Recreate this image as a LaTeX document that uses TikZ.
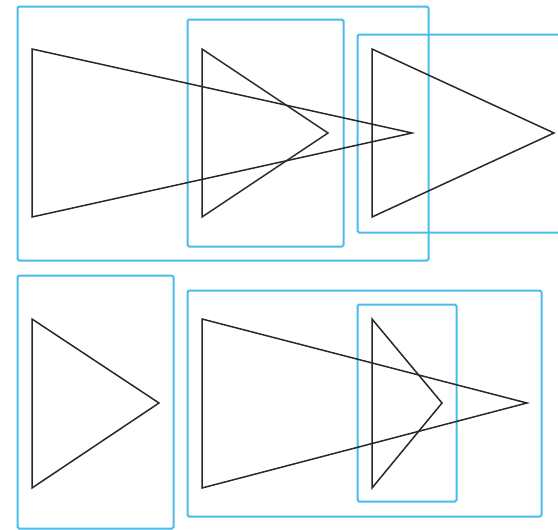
\documentclass[tikz,border=0pt]{standalone}
\definecolor{boxblue}{RGB}{72,186,236}
\definecolor{triblack}{RGB}{40,40,40}
\tikzset{
  bluebox/.style={draw=boxblue, line width=2pt, rounded corners=1.5pt},
  tri/.style={draw=triblack, line width=1.5pt, line join=miter}
}
\begin{document}
\begin{tikzpicture}[x=1pt,y=-1pt]
\useasboundingbox (0,0) rectangle (558,530);
% top row
\draw[bluebox] (17.5,6.5) rectangle (428.5,260.5);
\draw[bluebox] (187.5,19.5) rectangle (343.5,246.5);
\draw[bluebox] (357.5,34.5) rectangle (562,232.5);
\draw[tri] (32,49) -- (32,217) -- (412,133) -- cycle;
\draw[tri] (202,49) -- (202,217) -- (328,133) -- cycle;
\draw[tri] (372,49) -- (372,217) -- (554,133) -- cycle;
% bottom row
\draw[bluebox] (17.5,275.5) rectangle (173.5,528.5);
\draw[bluebox] (187.5,290.5) rectangle (541.5,516.5);
\draw[bluebox] (357.5,304.5) rectangle (456.5,501.5);
\draw[tri] (32,319) -- (32,488) -- (159,403) -- cycle;
\draw[tri] (202,319) -- (202,488) -- (527,403) -- cycle;
\draw[tri] (372,319) -- (372,488) -- (442,403) -- cycle;
\end{tikzpicture}
\end{document}
